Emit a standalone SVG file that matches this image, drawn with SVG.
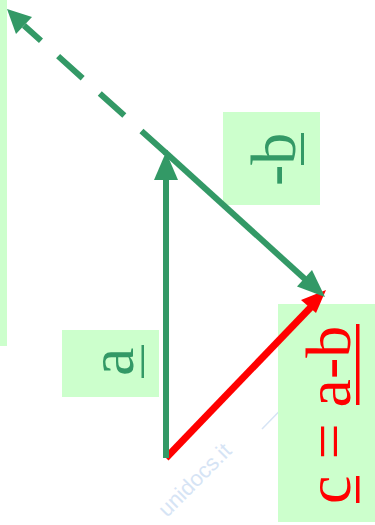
<svg xmlns="http://www.w3.org/2000/svg" width="375" height="525" viewBox="0 0 375 525">
  <style>
    .box { fill: #ccffcc; }
    .lbl { font-family: "Liberation Serif", "Times New Roman", serif; font-size: 64px; }
    .g { fill: #339966; }
    .r { fill: #ff0000; }
    .gs { stroke: #339966; stroke-width: 6; fill: none; }
    .wm { font-family: "Liberation Sans", Arial, sans-serif; font-size: 22px; fill: #d6e4f5; }
  </style>
  <rect width="375" height="525" fill="#ffffff"/>

  <g id="watermark">
    <line x1="262" y1="429" x2="375" y2="313" stroke="#d6e4f5" stroke-width="1.5"/>
    <text class="wm" transform="translate(167,518) rotate(-45)">unidocs.it</text>
  </g>

  <g id="strip"><rect class="box" x="0" y="0" width="7" height="346"/></g>

  <g id="label-minus-b">
    <rect class="box" x="223" y="112" width="97" height="93"/>
    <text class="lbl g" transform="translate(295,186) rotate(-90)">-b</text>
    <rect class="g" x="301" y="133" width="3" height="32"/>
  </g>

  <g id="label-a">
    <rect class="box" x="62" y="330" width="97" height="67"/>
    <text class="lbl g" transform="translate(133,376) rotate(-90)">a</text>
    <rect class="g" x="141.5" y="345" width="2.5" height="33"/>
  </g>

  <g id="label-c">
    <rect class="box" x="278" y="304" width="97" height="218"/>
    <text class="lbl r" transform="translate(350,504) rotate(-90)">c = a-b</text>
    <rect class="r" x="356" y="476" width="3.5" height="27"/>
    <rect class="r" x="356" y="324" width="3.5" height="81"/>
  </g>

  <g id="connectors">
    <!-- c = a - b (red) -->
    <line x1="166" y1="458" x2="312" y2="306" stroke="#ff0000" stroke-width="7"/>
    <polygon points="326,290 301,300 316,313" fill="#ff0000"/>
    <!-- a (vertical) -->
    <line class="gs" x1="166" y1="458" x2="166" y2="176"/>
    <polygon class="g" points="166,152 154,180 178,180"/>
    <!-- -b -->
    <line class="gs" x1="165" y1="152" x2="306" y2="280"/>
    <polygon class="g" points="325,297 297,286.5 312,270"/>
    <!-- dashed (b reversed) -->
    <path class="gs" d="M166,153 L24,25.5" stroke-dasharray="33 23"/>
    <polygon class="g" points="7,9 32,17 16,34"/>
  </g>
</svg>
